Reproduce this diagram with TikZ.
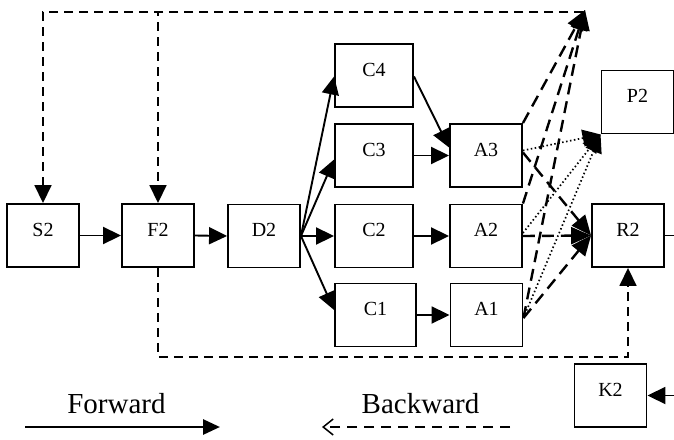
\documentclass[tikz,border=0pt]{standalone}
\usepackage{fontspec}
\setmainfont{Liberation Serif}
\usetikzlibrary{arrows.meta}
\begin{document}
\begin{tikzpicture}[x=1pt,y=-1pt,
  stage/.style={draw, line width=1.9pt, minimum width=72pt, minimum height=63pt,
    inner sep=0pt, text height=13.5pt, text depth=12pt, font=\fontsize{20}{23}\selectfont},
  wide/.style={minimum width=78pt},
  fwd/.style={line width=1.9pt, -{Triangle[length=18pt,width=17pt]}},
  back/.style={line width=1.7pt, dash pattern=on 9pt off 6pt, -{Triangle[length=18pt,width=17pt]}},
  heavy/.style={line width=2.4pt, dash pattern=on 12pt off 7pt, -{Triangle[length=20pt,width=17pt]}},
  dots/.style={line width=1.7pt, dash pattern=on 1.5pt off 2.5pt, -{Triangle[length=18pt,width=17pt]}},
  legend/.style={font=\fontsize{29}{34}\selectfont, anchor=base}]
\useasboundingbox (0,0) rectangle (674,439);

% stages
\node[stage] (S2) at (43,235.5) {S2};
\node[stage] (F2) at (158,235.5) {F2};
\node[stage] (D2) at (264,236) {D2};
\node[stage,wide] (C4) at (374,75.5) {C4};
\node[stage,wide] (C3) at (374,155.5) {C3};
\node[stage,wide] (C2) at (374,236) {C2};
\node[stage,minimum width=81pt] (C1) at (375.5,315) {C1};
\node[stage] (A3) at (486,155.5) {A3};
\node[stage] (A2) at (486,236) {A2};
\node[stage] (A1) at (486.5,315) {A1};
\node[stage] (P2) at (637.5,102) {P2};
\node[stage] (R2) at (628,235.5) {R2};
\node[stage] (K2) at (610.5,395.5) {K2};

% helper points
\coordinate (T) at (585,10);
\coordinate (tr) at (583,12);
\coordinate (tl) at (43,12);
\coordinate (tm) at (158,12);
\coordinate (bl) at (158,357);
\coordinate (br) at (628,357);
\coordinate (rout) at (674,235.5);
\coordinate (kin) at (674,395.5);

% forward flow
\draw[fwd] (S2.east) -- (F2.west);
\draw[fwd] (F2.east) -- (D2.west);
\draw[fwd] (D2.east) -- ([yshift=-1pt]C4.west);
\draw[fwd] (D2.east) -- ([yshift=-4pt]C3.west);
\draw[fwd] (D2.east) -- (C2.west);
\draw[fwd] (D2.east) -- ([yshift=5pt]C1.west);
\draw[fwd] ([yshift=-1pt]C4.east) -- ([yshift=8pt]A3.west);
\draw[fwd] (C3.east) -- (A3.west);
\draw[fwd] (C2.east) -- (A2.west);
\draw[fwd] (C1.east) -- (A1.west);
\draw[line width=1.9pt] (R2.east) -- (rout);
\draw[fwd] (kin) -- (K2.east);

% dashed links to the top point
\draw[heavy] (A3.north east) -- (T);
\draw[heavy] (A2.north east) -- (T);
\draw[heavy] ([yshift=-3pt]A1.east) -- (T);

% dotted links to P2
\draw[dots] ([yshift=5pt]A3.east) -- (P2.south west);
\draw[dots] ([yshift=3pt]A2.east) -- (P2.south west);
\draw[dots] ([yshift=-3pt]A1.east) -- (P2.south west);

% dashed links to R2
\draw[heavy] ([yshift=3pt]A3.east) -- (R2.west);
\draw[heavy] (A2.east) -- (R2.west);
\draw[heavy] ([yshift=-3pt]A1.east) -- (R2.west);

% feedback paths
\draw[back] (tr) -- (tl) -- (S2.north);
\draw[back] (tr) -- (tm) -- (F2.north);
\draw[back] (F2.south) -- (bl) -- (br) -- (R2.south);

% legend
\node[legend] (fw) at (116.5,413) {Forward};
\node[legend] (bw) at (420.5,413) {Backward};
\coordinate (fa) at (25,427);
\coordinate (fb) at (220,427);
\coordinate (ba) at (510,427);
\coordinate (bb) at (322,427);
\draw[line width=2.8pt, -{Triangle[length=17pt,width=15pt]}] (fa) -- (fb);
\draw[line width=2.3pt, dash pattern=on 10pt off 7pt, -{Straight Barb[length=10pt,width=16pt,line width=1.5pt]}] (ba) -- (bb);
\end{tikzpicture}
\end{document}
